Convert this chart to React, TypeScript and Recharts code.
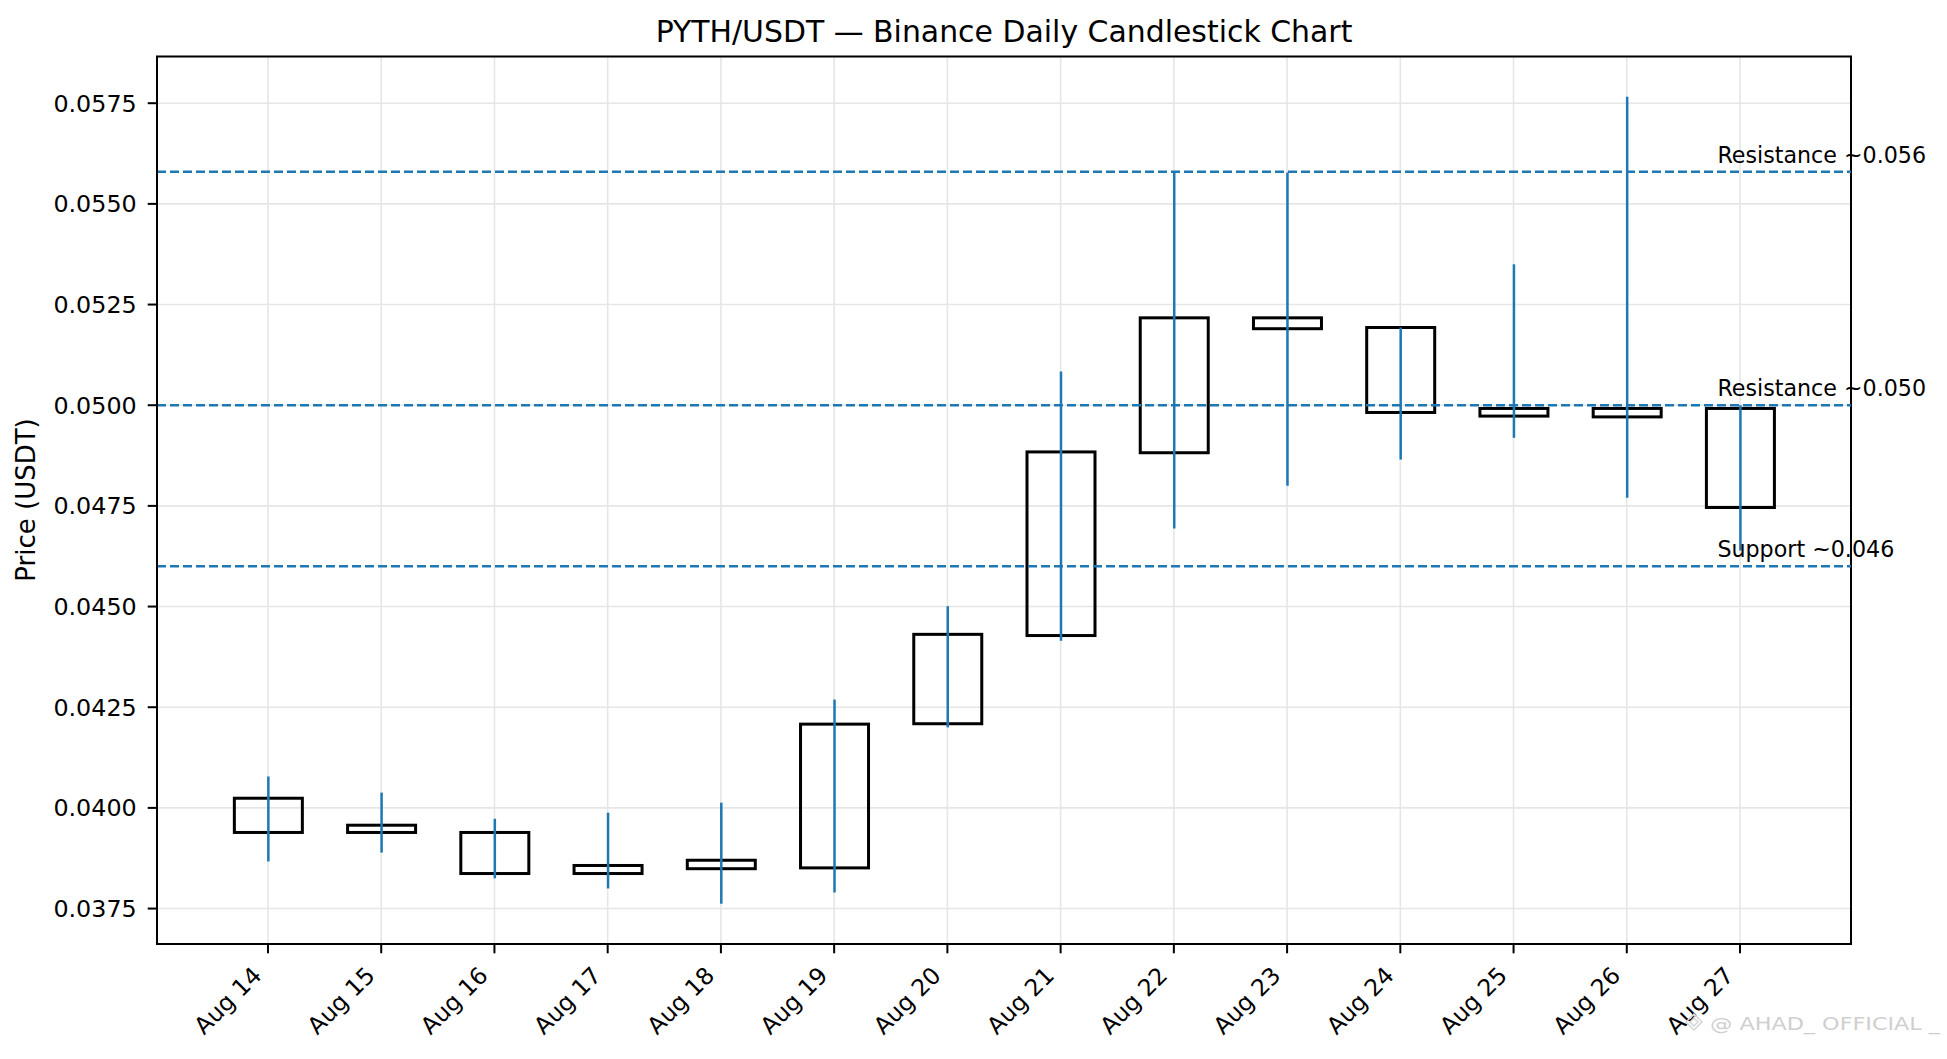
import React from "react";
import {
  ComposedChart,
  Bar,
  XAxis,
  YAxis,
  CartesianGrid,
  ReferenceLine,
  ReferenceArea,
} from "recharts";

const dates = [
  "Aug 14", "Aug 15", "Aug 16", "Aug 17", "Aug 18", "Aug 19", "Aug 20",
  "Aug 21", "Aug 22", "Aug 23", "Aug 24", "Aug 25", "Aug 26", "Aug 27",
];
const opens = [0.04024, 0.03939, 0.03939, 0.03837, 0.03849, 0.03851, 0.04209, 0.04428, 0.04882, 0.05217, 0.05193, 0.04973, 0.04992, 0.04992];
const closes = [0.03939, 0.03957, 0.03837, 0.03857, 0.0387, 0.04208, 0.04431, 0.04884, 0.05217, 0.0519, 0.04982, 0.04992, 0.04971, 0.04746];
const highs = [0.04078, 0.04038, 0.03973, 0.03988, 0.04013, 0.04269, 0.04501, 0.05084, 0.05578, 0.05578, 0.05193, 0.0535, 0.05766, 0.05];
const lows = [0.03867, 0.03889, 0.03825, 0.038, 0.03762, 0.0379, 0.042, 0.04415, 0.04694, 0.048, 0.04865, 0.04919, 0.0477, 0.04639];

const levelValues = [0.0558, 0.05, 0.046];
const levelLabels = ["Resistance ~0.056", "Resistance ~0.050", "Support ~0.046"];

const yTicks = [0.0375, 0.04, 0.0425, 0.045, 0.0475, 0.05, 0.0525, 0.055, 0.0575];

const X_MIN = -0.98;
const X_MAX = 13.98;
const Y_MIN = 0.03662;
const Y_MAX = 0.05866;
const LABEL_X = 12.8;

const FONT = "DejaVu Sans";
const BLUE = "#1f77b4";

const data = dates.map((d, i) => ({
  idx: i,
  date: d,
  open: opens[i],
  close: closes[i],
  high: highs[i],
  low: lows[i],
}));

// body + wick drawn from the [low, high] range bar
const Candle = (props: any) => {
  const { x, y, width, height, payload } = props;
  const { open, close, high, low } = payload;
  const k = height / (high - low);
  const yOf = (v: number) => y + (high - v) * k;
  const top = yOf(Math.max(open, close));
  const bot = yOf(Math.min(open, close));
  const cx = x + width / 2;
  return (
    <g>
      <rect x={x} y={top} width={width} height={Math.max(bot - top, 1)} fill="none" stroke="#000" strokeWidth={3} />
      <line x1={cx} x2={cx} y1={y} y2={y + height} stroke={BLUE} strokeWidth={2.5} />
    </g>
  );
};

const XTick = (props: any) => {
  const { x, y, payload } = props;
  return (
    <g transform={`translate(${x - 5},${y + 23.5})`}>
      <text
        x={0}
        y={0}
        transform="rotate(-45)"
        textAnchor="end"
        fontFamily={FONT}
        fontSize={23.5}
        fill="#000"
      >
        {dates[payload.value]}
      </text>
    </g>
  );
};

const levelLabel = (text: string) => (p: any) => {
  const vb = p.viewBox;
  const lx = vb.x + ((LABEL_X - X_MIN) / (X_MAX - X_MIN)) * vb.width;
  return (
    <text x={lx} y={vb.y - 9} fontFamily={FONT} fontSize={22.2} fill="#000">
      {text}
    </text>
  );
};

export default function App() {
  return (
    <div style={{ position: "absolute", left: 0, top: 0, width: 1947, height: 1059, background: "#fff" }}>
      <ComposedChart
        width={1947}
        height={1059}
        data={data}
        margin={{ top: 56.5, right: 96, bottom: 0, left: 0 }}
      >
        <CartesianGrid stroke="#e6e6e6" strokeWidth={1.6} />
        <XAxis
          dataKey="idx"
          type="number"
          domain={[X_MIN, X_MAX]}
          ticks={dates.map((_, i) => i)}
          interval={0}
          allowDataOverflow
          height={115}
          tickSize={9.3}
          tickMargin={0}
          tick={<XTick />}
          tickLine={{ stroke: "#000", strokeWidth: 2 }}
          axisLine={{ stroke: "#000", strokeWidth: 2 }}
        />
        <YAxis
          type="number"
          domain={[Y_MIN, Y_MAX]}
          ticks={yTicks}
          interval={0}
          allowDataOverflow
          width={157}
          tickSize={9.3}
          tickMargin={11}
          tickFormatter={(v: number) => v.toFixed(4)}
          tick={{ fill: "#000", fontSize: 23.8, fontFamily: FONT }}
          tickLine={{ stroke: "#000", strokeWidth: 2 }}
          axisLine={{ stroke: "#000", strokeWidth: 2 }}
        />
        {levelValues.map((v, i) => (
          <ReferenceLine
            key={i}
            y={v}
            stroke={BLUE}
            strokeWidth={2.5}
            strokeDasharray="9 4"
            label={levelLabel(levelLabels[i])}
          />
        ))}
        <Bar
          dataKey={(d: any) => [d.low, d.high]}
          barSize={68}
          shape={<Candle />}
          isAnimationActive={false}
        />
        <ReferenceArea
          x1={X_MIN}
          x2={X_MAX}
          y1={Y_MIN}
          y2={Y_MAX}
          fill="none"
          fillOpacity={0}
          stroke="#000"
          strokeWidth={2}
          ifOverflow="visible"
        />
      </ComposedChart>
      <svg
        width={1947}
        height={1059}
        style={{ position: "absolute", left: 0, top: 0, pointerEvents: "none" }}
      >
        <text x={1004} y={42} textAnchor="middle" fontFamily={FONT} fontSize={29.9} fill="#000">
          PYTH/USDT — Binance Daily Candlestick Chart
        </text>
        <text
          x={35}
          y={500}
          transform="rotate(-90 35 500)"
          textAnchor="middle"
          fontFamily={FONT}
          fontSize={26}
          fill="#000"
        >
          Price (USDT)
        </text>
        {/* watermark */}
        <g fill="none" stroke="#d6d6d6" strokeWidth={1.5}>
          <path d="M1694 1014 L1702 1022 L1694 1030 L1686 1022 Z" />
          <path d="M1694 1018 L1698 1022 L1694 1026 L1690 1022 Z" />
        </g>
        <text
          x={1710}
          y={1030}
          fontFamily={FONT}
          fontSize={17}
          fill="#cfcfcf"
          textLength={230}
          lengthAdjust="spacingAndGlyphs"
        >
          @ AHAD_ OFFICIAL _
        </text>
      </svg>
    </div>
  );
}
